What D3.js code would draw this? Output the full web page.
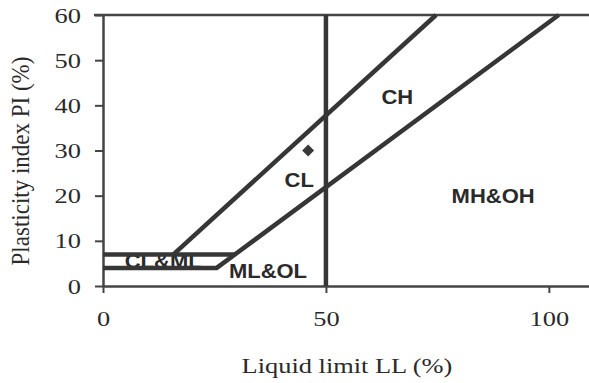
<!DOCTYPE html>
<html>
<head>
<meta charset="utf-8">
<script src="https://cdn.jsdelivr.net/npm/d3@7"></script>
<style>
  body { margin: 0; background: #fff; }
  svg { display: block; }
</style>
</head>
<body>
<svg id="chart"></svg>
<script>
// Data
const xTicks = [0, 50, 100];
const yTicks = [0, 10, 20, 30, 40, 50, 60];
const lowerLine = [[0, 4], [25.5, 4], [102.2, 60]]; // PI=4 then A-line
const upperFlat = [[0, 7], [29.6, 7]];              // PI=7
const uLine = [[15.8, 7], [74.7, 60]];
const llLine = [[50, 0], [50, 60]];
const samples = [[46, 30]];
const zones = [
  { name: "CH", x: 66, y: 42 },
  { name: "CL", x: 44, y: 23.5 },
  { name: "MH&OH", x: 87.5, y: 20 },
  { name: "ML&OL", x: 37, y: 3.3 },
  { name: "CL&ML", x: 13.5, y: 5.5 }
];

const width = 589;
const height = 383;
const margin = { top: 15, right: 0, bottom: 97, left: 103 };

// the source picture is stretched sideways, so text gets a little x-stretch
const stretch = 1.2;
const serif = "Liberation Serif, Times New Roman, serif";
const sans = "Liberation Sans, Arial, sans-serif";

const x = d3.scaleLinear().domain([0, 109]).range([margin.left, width - margin.right]);
const y = d3.scaleLinear().domain([0, 60]).range([height - margin.bottom, margin.top]);

const svg = d3.select("#chart").attr("width", width).attr("height", height);

const line = d3.line().x((d) => x(d[0])).y((d) => y(d[1]));
const ink = "#363636";

// zone labels (drawn first so the lines sit over CL&ML)
svg.selectAll(".zone")
  .data(zones)
  .enter()
  .append("text")
  .attr("transform", (d) => `translate(${x(d.x)}, ${y(d.y)}) scale(1.1, 1)`)
  .attr("dy", "0.36em")
  .attr("text-anchor", "middle")
  .attr("font-family", sans)
  .attr("font-weight", "bold")
  .style("font-size", "20px")
  .attr("fill", "#2a2a2a")
  .text((d) => d.name);

// frame: top border at PI=60
svg.append("line")
  .attr("x1", x(0) - 9).attr("x2", width)
  .attr("y1", y(60)).attr("y2", y(60))
  .attr("stroke", "#444").attr("stroke-width", 2.5);

// axes
const xAxis = d3.axisBottom(x).tickValues(xTicks).tickSize(7).tickSizeOuter(0).tickPadding(17);
const yAxis = d3.axisLeft(y).tickValues(yTicks).tickSize(8).tickSizeOuter(0).tickPadding(14);

const gx = svg.append("g")
  .attr("transform", `translate(0, ${y(0)})`)
  .call(xAxis);
const gy = svg.append("g")
  .attr("transform", `translate(${x(0)}, 0)`)
  .call(yAxis);

[gx, gy].forEach((g) => {
  g.select(".domain").attr("stroke", "#444").attr("stroke-width", 2.5);
  g.selectAll(".tick line").attr("stroke", "#444").attr("stroke-width", 2);
  g.selectAll("text")
    .attr("font-family", serif)
    .style("font-size", "22px")
    .attr("fill", "#2a2a2a")
    .each(function () {
      const t = d3.select(this);
      const tx = +t.attr("x") || 0;
      const ty = +t.attr("y") || 0;
      t.attr("x", 0).attr("y", 0)
        .attr("transform", `translate(${tx}, ${ty}) scale(${stretch}, 1)`);
    });
});

// classification lines
[lowerLine, upperFlat, uLine, llLine].forEach((pts) => {
  svg.append("path")
    .datum(pts)
    .attr("d", line)
    .attr("fill", "none")
    .attr("stroke", ink)
    .attr("stroke-width", 4.5)
    .attr("stroke-linejoin", "miter");
});

// sample point (diamond)
svg.selectAll(".pt")
  .data(samples)
  .enter()
  .append("path")
  .attr("d", d3.symbol(d3.symbolSquare, 72))
  .attr("transform", (d) => `translate(${x(d[0])}, ${y(d[1])}) rotate(45)`)
  .attr("fill", "#3a3a3a");

// axis titles
svg.append("text")
  .attr("transform", `translate(347, 373) scale(${stretch}, 1)`)
  .attr("text-anchor", "middle")
  .attr("font-family", serif)
  .style("font-size", "22px")
  .attr("fill", "#2a2a2a")
  .text("Liquid limit LL (%)");

svg.append("text")
  .attr("transform", `translate(29, 161) scale(1.05, 1) rotate(-90)`)
  .attr("text-anchor", "middle")
  .attr("font-family", serif)
  .style("font-size", "23px")
  .attr("fill", "#2a2a2a")
  .text("Plasticity index PI (%)");
</script>
</body>
</html>
